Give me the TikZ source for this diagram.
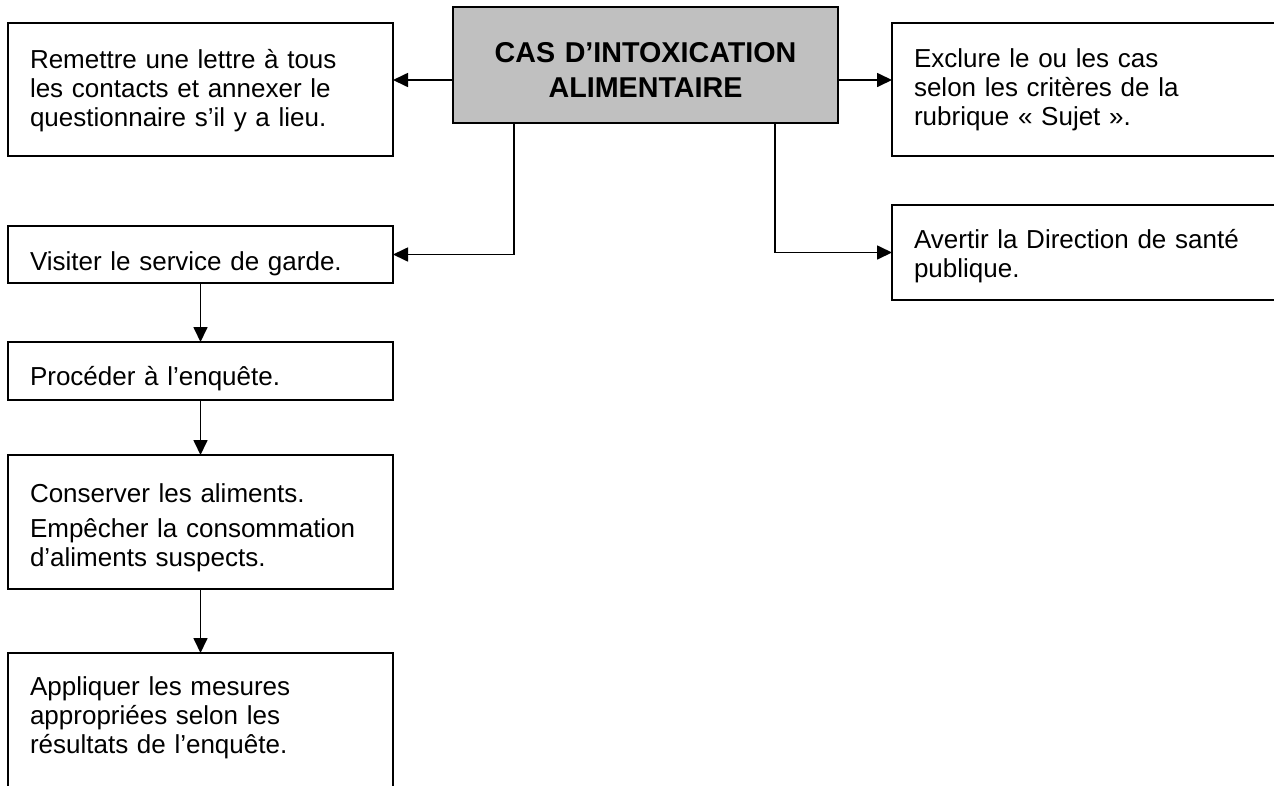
\documentclass[tikz,border=0pt]{standalone}
\usepackage{fontspec}
\setmainfont{Liberation Sans}
\usetikzlibrary{arrows.meta}
\newcommand{\flowfont}{\fontsize{18.5pt}{0.735cm}\selectfont\lineskiplimit=-\maxdimen}
\newcommand{\titlefont}{\fontsize{20.4pt}{0.875cm}\selectfont\bfseries\lineskiplimit=-\maxdimen}

\begin{document}
\begin{tikzpicture}[
    box/.style={draw, line width=1.4pt, anchor=north west, outer sep=0pt,
        inner xsep=0.55cm, inner ysep=0pt, text width=8.525cm, align=left, font=\flowfont},
    sidebox/.style={box, text width=8.85cm},
    arr/.style={line width=1.2pt, -{Triangle[length=0.375cm,width=0.35cm]}}]
            \useasboundingbox (0,0) rectangle (31.85,-19.625);
            \clip (0,0) rectangle (31.85,-19.625);
            % centre
            \node [box, fill={rgb,255:red,192;green,192;blue,192}, inner xsep=0.2cm, text width=9.225cm,
                align=center, font=\titlefont, text height=1.375cm, text depth=1.525cm]
                (main) at (11.325,-0.175) {CAS D’INTOXICATION\\ALIMENTAIRE};
            % left column
            \node [box, text height=1.125cm, text depth=2.2cm] (lettre) at (0.2,-0.575)
                {Remettre une lettre à tous\\les contacts et annexer le\\questionnaire s’il y a lieu.};
            \node [box, text height=1.1cm, text depth=0.325cm] (visite) at (0.2,-5.65)
                {Visiter le service de garde.};
            \node [box, text height=1.075cm, text depth=0.375cm] (enquete) at (0.2,-8.55)
                {Procéder à l’enquête.};
            \node [box, text height=1.175cm, text depth=2.175cm] (aliments) at (0.2,-11.375)
                {Conserver les aliments.\\[0.15cm]Empêcher la consommation\\d’aliments suspects.};
            \node [box, text height=1.05cm, text depth=2.625cm] (mesures) at (0.2,-16.325)
                {Appliquer les mesures\\appropriées selon les\\résultats de l’enquête.};
            % right column
            \node [sidebox, text height=1.1cm, text depth=2.225cm] (exclure) at (22.3,-0.575)
                {Exclure le ou les cas\\selon les critères de la\\rubrique « Sujet ».};
            \node [sidebox, text height=1.075cm, text depth=1.3cm] (avertir) at (22.3,-5.125)
                {Avertir la Direction de santé\\publique.};
            % connectors
            \coordinate (w1) at ([yshift=-0.375cm]main.west);
            \coordinate (e1) at ([yshift=-0.375cm]main.east);
            \coordinate (s1) at ([xshift=-3.29cm]main.south);
            \coordinate (s2) at ([xshift=3.24cm]main.south);
            \draw [arr] (w1) -- (w1 -| lettre.east);
            \draw [arr] (e1) -- (e1 -| exclure.west);
            \draw [arr] (s1) |- (visite.east);
            \draw [arr] (s2) |- (avertir.west);
            \draw [arr] (visite.south) -- (enquete.north);
            \draw [arr] (enquete.south) -- (aliments.north);
            \draw [arr] (aliments.south) -- (mesures.north);
        \end{tikzpicture}
\end{document}
